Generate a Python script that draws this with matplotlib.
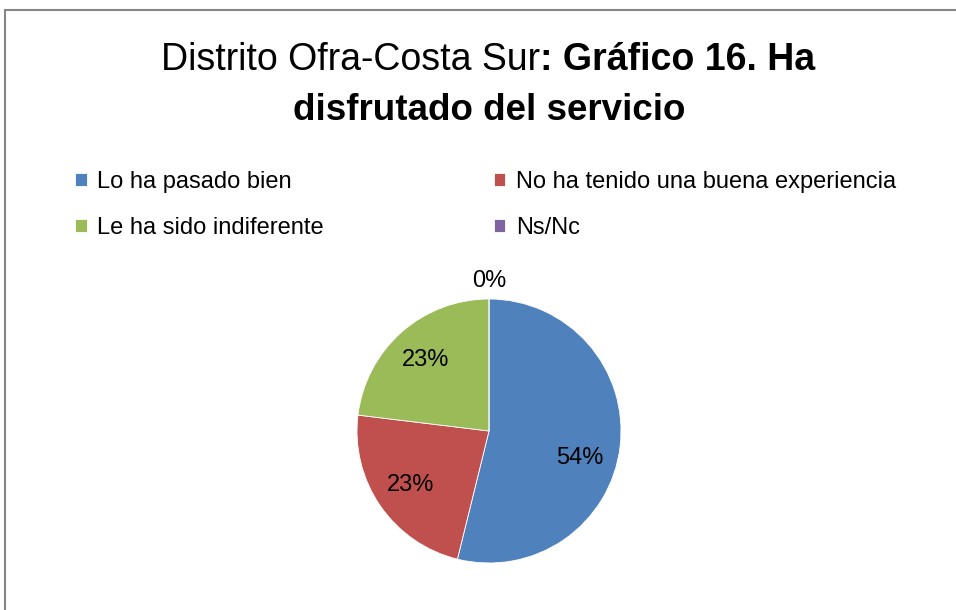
import matplotlib
matplotlib.use("Agg")
import matplotlib.pyplot as plt
import numpy as np
from matplotlib.patches import Rectangle

# ---- data ----
categories = ["Lo ha pasado bien", "No ha tenido una buena experiencia",
              "Le ha sido indiferente", "Ns/Nc"]
counts = [7, 3, 3, 0]
colors = ["#4F81BD", "#C0504D", "#9BBB59", "#8064A2"]

plt.rcParams["font.family"] = ["Liberation Sans", "DejaVu Sans"]

W, H = 956, 610
fig = plt.figure(figsize=(W / 100, H / 100), dpi=100)

# chart-area border (cropped on the right and bottom)
fig.patches.append(Rectangle((5 / W, -0.1), 1.2, (H - 10) / H + 0.1, transform=fig.transFigure,
                             fill=False, edgecolor="#868686", linewidth=1.5))

# title: regular + bold run on line 1, centred together
t1 = fig.text(0, 1 - 60 / H, "Distrito Ofra-Costa Sur", ha="left", va="center", fontsize=27)
t2 = fig.text(0, 1 - 60 / H, ": Gráfico 16. Ha", ha="left", va="center", fontsize=27,
              fontweight="bold")
fig.text(489 / W, 1 - 110 / H, "disfrutado del servicio", ha="center", va="center",
         fontsize=26.5, fontweight="bold")
rend = fig.canvas.get_renderer()
w1 = t1.get_window_extent(rend).width; w2 = t2.get_window_extent(rend).width
x0 = 488 - (w1 + w2) / 2
t1.set_x(x0 / W); t2.set_x((x0 + w1) / W)

# pie
cx, cy, r = 489, 431, 132
ax = fig.add_axes([(cx - r) / W, (H - cy - r) / H, 2 * r / W, 2 * r / H])
wedges, texts, autotexts = ax.pie(counts, colors=colors, startangle=90, counterclock=False,
                                  autopct=lambda p: f"{p:.0f}%" if p > 0 else "",
                                  pctdistance=0.72, radius=1,
                                  wedgeprops=dict(edgecolor="white", linewidth=0.6),
                                  textprops=dict(fontsize=17, color="black"))
for w, n in zip(wedges, counts):
    if n == 0:  # zero slice: label sits just outside the rim
        th = np.deg2rad((w.theta1 + w.theta2) / 2)
        ax.text(1.14 * np.cos(th), 1.14 * np.sin(th), "0%", ha="center", va="center", fontsize=17)
# Excel pushes the big slice's label a little lower
x, y = autotexts[0].get_position(); autotexts[0].set_position((x - 0.03, y - 0.12))
ax.set_xlim(-1, 1); ax.set_ylim(-1, 1)
ax.axis("off")

# legend, row-major like the original (matplotlib fills column-first)
order = [0, 2, 1, 3]
fig.legend([wedges[i] for i in order], [categories[i] for i in order], ncol=2, loc="upper left",
           bbox_to_anchor=(54 / W, 1 - 150 / H), frameon=False, fontsize=17,
           handlelength=0.48, handleheight=0.48, handletextpad=0.45,
           columnspacing=7.2, labelspacing=1.0)

fig.savefig("out.png", dpi=100)
